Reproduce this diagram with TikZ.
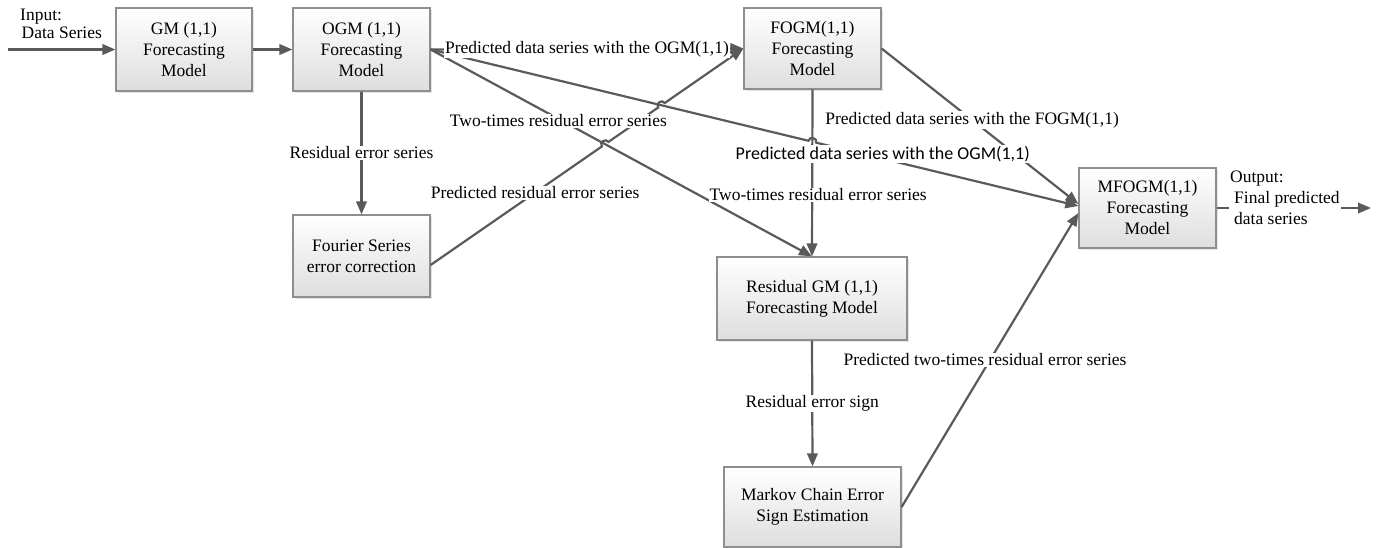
\documentclass[tikz,border=0pt]{standalone}
\usepackage{fontspec}
\setmainfont{Liberation Serif}
\newfontfamily\cbfont{Carlito}
\usetikzlibrary{arrows.meta,calc,shadows}
\definecolor{lncol}{HTML}{5A5A5A}
\definecolor{bxcol}{HTML}{8E8E8E}
\pgfdeclarelayer{fg}
\pgfsetlayers{main,fg}
\tikzset{
  box/.style={draw=bxcol, line width=1.2pt, top color=white, bottom color=black!13,
    align=center, font=\fontsize{17.5}{21}\selectfont, inner sep=0pt,
    drop shadow={shadow xshift=1.5pt, shadow yshift=-1.5pt, fill=black!10, opacity=1}},
  conn/.style={draw=lncol, line width=2.2pt, -{Triangle[length=13pt,width=10.5pt]}},
  lbl/.style={fill=white, inner sep=1pt, font=\fontsize{17.5}{21}\selectfont},
  lblsans/.style={lbl, font=\cbfont\fontsize{18}{21}\selectfont},
  hopcurve/.style={out=90, in=90, relative, looseness=1.6}
}
\begin{document}
\begin{tikzpicture}[x=1pt,y=-1pt]
\useasboundingbox (0,0) rectangle (1380,547);
% boxes
\node[box, minimum width=136pt, minimum height=83pt] (gm) at (184,49.5) {GM (1,1)\\Forecasting\\Model};
\node[box, minimum width=137pt, minimum height=83pt] (ogm) at (361.5,49.5) {OGM (1,1)\\Forecasting\\Model};
\node[box, minimum width=137pt, minimum height=82pt] (four) at (361.5,256) {Fourier Series\\error correction};
\node[box, minimum width=137pt, minimum height=81pt] (fogm) at (812.5,48.5) {FOGM(1,1)\\Forecasting\\Model};
\node[box, minimum width=190pt, minimum height=83pt] (resgm) at (812,298.5) {Residual GM (1,1)\\Forecasting Model};
\node[box, minimum width=177pt, minimum height=80pt] (markov) at (812.5,507) {Markov Chain Error\\Sign Estimation};
\node[box, minimum width=137pt, minimum height=80pt] (mfogm) at (1147.5,208) {MFOGM(1,1)\\Forecasting\\Model};

% helper coordinates
\coordinate (inpt) at (8,49.5);
\coordinate (outpt) at (1371,208);
\coordinate (m1) at ($(mfogm.west)+(0,-2)$);
\coordinate (m2) at ($(mfogm.west)+(0,-4)$);
\coordinate (m3) at ($(mfogm.west)+(0,5)$);
\coordinate (fs) at ($(four.east)+(0,9)$);
\coordinate (x1) at (intersection of fs--fogm.west and ogm.east--resgm.north);
\coordinate (x2) at (intersection of fs--fogm.west and ogm.east--m1);
\coordinate (x3) at (intersection of ogm.east--m1 and fogm.south--resgm.north);

% connectors
\draw[conn] (inpt) -- (gm.west);
\draw[conn] (gm.east) -- (ogm.west);
\draw[conn] (ogm.south) -- (four.north);
\draw[conn] (ogm.east) -- (fogm.west);
\draw[conn] (ogm.east) -- (resgm.north);
\draw[conn] (fogm.south) -- (resgm.north);
\draw[conn] (fogm.east) -- (m2);
\draw[conn] (ogm.east) -- ($(x3)!4pt!(ogm.east)$) to[hopcurve] ($(x3)!4pt!(m1)$) -- (m1);
\draw[conn] (fs) -- ($(x1)!4pt!(fs)$) to[hopcurve] ($(x1)!4pt!(fogm.west)$)
   -- ($(x2)!4pt!(fs)$) to[hopcurve] ($(x2)!4pt!(fogm.west)$) -- (fogm.west);
\draw[conn] (resgm.south) -- (markov.north);
\draw[conn] (markov.east) -- (m3);
\draw[conn] (mfogm.east) -- (outpt);

% labels
\begin{pgfonlayer}{fg}
\node[lbl] (l1) at ($(ogm.south)!.5!(four.north)$) {Residual error series};
\node[lbl] (l2) at ($(ogm.east)!.5!(fogm.west)$) {Predicted data series with the OGM(1,1)};
\node[lbl] (l3) at ($(fs)!.334!(fogm.west)$) {Predicted residual error series};
\node[lbl, yshift=-2pt] (l4) at ($(ogm.east)!.335!(resgm.north)$) {Two-times residual error series};
\node[lblsans, yshift=4.5pt] (l5) at ($(ogm.east)!.698!(m1)$) {Predicted data series with the OGM(1,1)};
\node[lbl, xshift=6pt] (l6) at ($(fogm.south)!.63!(resgm.north)$) {Two-times residual error series};
\node[lbl] (l7) at ($(fogm.east)!.46!(m2)$) {Predicted data series with the FOGM(1,1)};
\node[lbl] (l8) at ($(resgm.south)!.5!(markov.north)$) {Residual error sign};
\node[lbl, xshift=-5pt] (l9) at ($(markov.east)!.5!(m3)$) {Predicted two-times residual error series};
\node[lbl, align=left, anchor=west, inner sep=0pt, font=\fontsize{17.5}{18}\selectfont] (inlbl) at (20,24) {Input:\\\hspace{1.5pt}Data Series};
\node[lbl, align=left, anchor=west] (outlbl) at (1229,198) {Output:\\\hspace{4pt}Final predicted\\\hspace{4pt}data series};
\end{pgfonlayer}
\end{tikzpicture}
\end{document}
